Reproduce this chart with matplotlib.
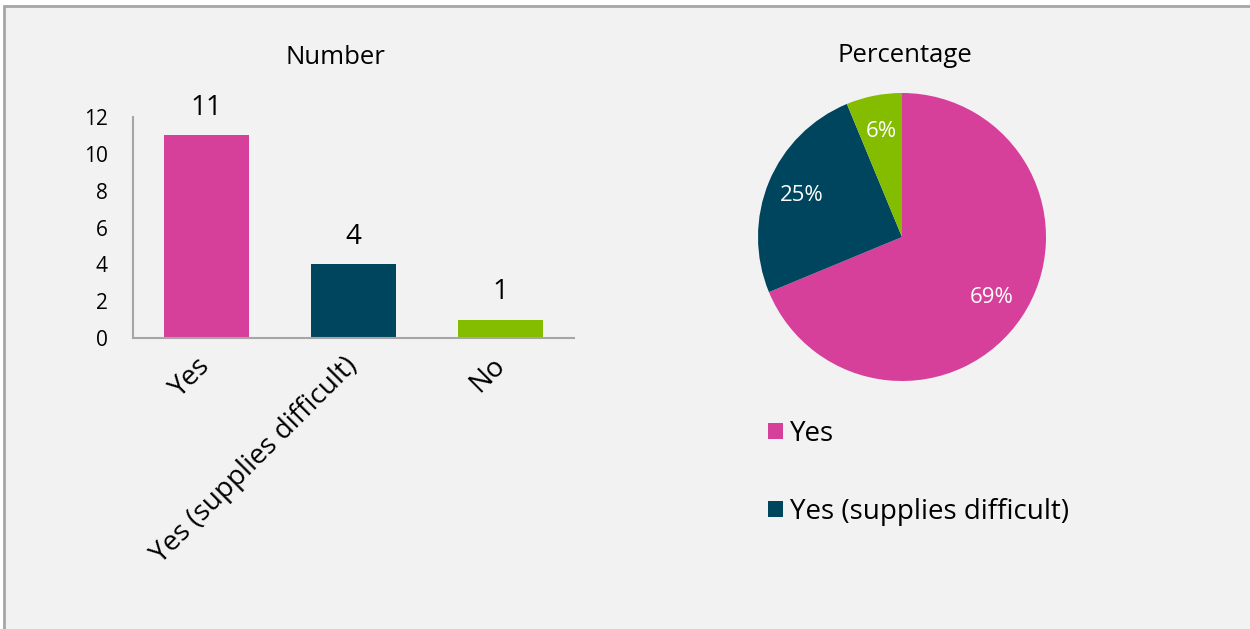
import numpy as np
import matplotlib.pyplot as plt
from matplotlib.patches import Rectangle

plt.rcParams['font.family'] = ['Open Sans', 'DejaVu Sans']

categories = ['Yes', 'Yes (supplies difficult)', 'No']
counts = [11, 4, 1]
colors = ['#D6409A', '#00455E', '#84BC00']
y_ticks = [0, 2, 4, 6, 8, 10, 12]

W, H = 1250, 629
fig = plt.figure(figsize=(W / 100, H / 100), dpi=100)
fig.patch.set_facecolor('white')

# chart area with grey border on top and left
fig.add_artist(Rectangle((4 / W, -0.1), 1.1, (H - 6) / H + 0.1, transform=fig.transFigure,
                         facecolor='#f2f2f2', edgecolor='#a6a6a6', linewidth=2,
                         zorder=-5))


def fx(px):
    return px / W


def fy(py):
    return 1 - py / H


# bar chart: counts
ax = fig.add_axes([fx(133), fy(338), fx(574) - fx(133), fy(117) - fy(338)])
ax.set_facecolor('none')
x = np.arange(len(categories))
bars = ax.bar(x, counts, width=0.58, color=colors)
ax.set_xlim(-0.5, len(categories) - 0.5)
ax.set_ylim(0, 12)
ax.set_yticks(y_ticks)
ax.tick_params(axis='y', length=0, pad=18, labelsize=15)
ax.set_xticks(x)
ax.set_xticklabels(categories, rotation=45, ha='right', va='center',
                   rotation_mode='anchor', fontsize=20)
ax.tick_params(axis='x', length=0, pad=17)
for side in ['top', 'right']:
    ax.spines[side].set_visible(False)
for side in ['left', 'bottom']:
    ax.spines[side].set_color('#a6a6a6')
    ax.spines[side].set_linewidth(1.5)
for b, v in zip(bars, counts):
    ax.annotate(str(v), (b.get_x() + b.get_width() / 2, v), xytext=(0, 20),
                textcoords='offset points', ha='center', va='center', fontsize=20)

fig.text(fx(335), fy(57), 'Number', ha='center', va='center', fontsize=18.5)

# pie chart: percentages
pax = fig.add_axes([fx(758), fy(381), 288 / W, 288 / H])
wedges, texts, autotexts = pax.pie(counts, colors=colors, startangle=90, counterclock=False,
                                   autopct='%1.0f%%', pctdistance=0.75,
                                   textprops={'color': 'white', 'fontsize': 16})
pax.set_xlim(-1, 1)
pax.set_ylim(-1, 1)
pax.set_aspect('equal')

fig.text(fx(905), fy(56), 'Percentage', ha='center', va='center', fontsize=18.5)

fig.legend(wedges[:2], categories[:2], loc='upper left',
           bbox_to_anchor=(fx(768), fy(420)), frameon=False, fontsize=20,
           handlelength=0.54, handleheight=0.54, handletextpad=0.25,
           labelspacing=1.8, borderpad=0, borderaxespad=0)

fig.savefig('out.png', dpi=100, facecolor=fig.get_facecolor())
